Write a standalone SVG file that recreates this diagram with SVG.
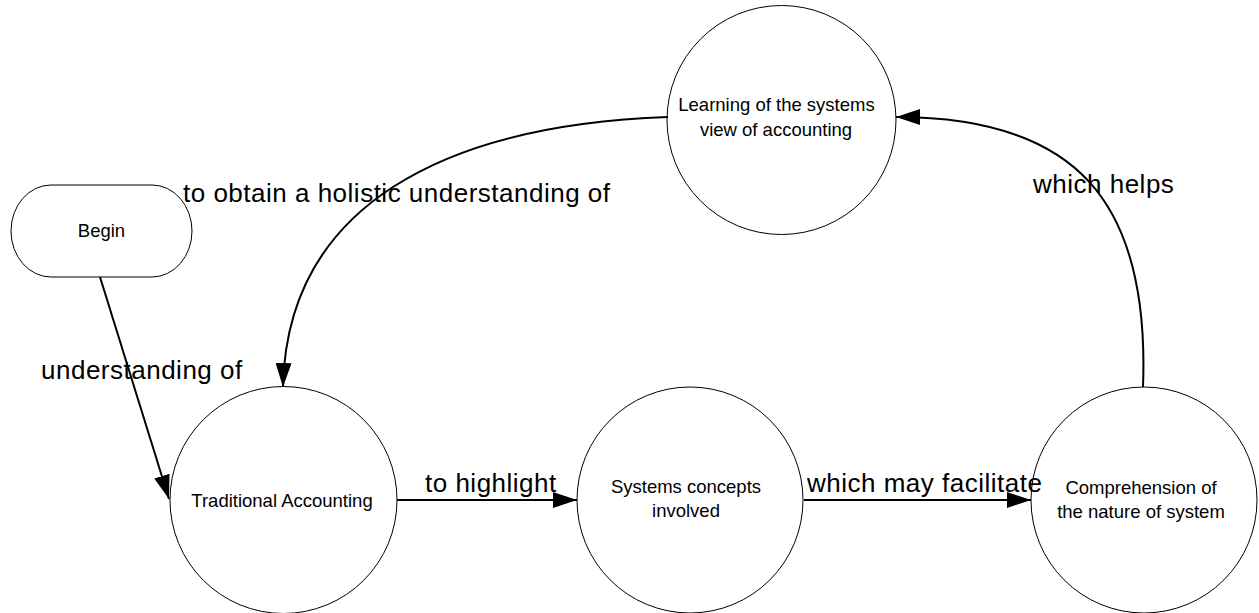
<svg xmlns="http://www.w3.org/2000/svg" width="1259" height="613" viewBox="0 0 1259 613">
  <defs>
    <style>
      .node { fill: #ffffff; stroke: #000000; stroke-width: 1; }
      .nlabel { font-family: "Liberation Sans", Arial, sans-serif; font-size: 18.5px; fill: #000000; text-anchor: middle; }
      .edge { fill: none; stroke: #000000; stroke-width: 2; }
      .elabel { font-family: "Liberation Sans", Arial, sans-serif; font-size: 26px; letter-spacing: 0.5px; fill: #000000; }
    </style>
    <marker id="arrow" markerUnits="userSpaceOnUse" markerWidth="24" markerHeight="16" refX="24" refY="8" orient="auto">
      <path d="M0,0 L24,8 L0,16 Z" fill="#000000"/>
    </marker>
  </defs>

  <rect width="1259" height="613" fill="#ffffff"/>

  <!-- nodes -->
  <g id="begin">
    <rect class="node" x="11" y="185" width="181" height="92" rx="40" ry="46"/>
    <text class="nlabel" x="101.5" y="237">Begin</text>
  </g>
  <g id="traditional-accounting">
    <circle class="node" cx="283.5" cy="500" r="113.5"/>
    <text class="nlabel" x="282" y="507">Traditional Accounting</text>
  </g>
  <g id="systems-concepts">
    <circle class="node" cx="690" cy="500" r="113"/>
    <text class="nlabel" x="686" y="493">Systems concepts</text>
    <text class="nlabel" x="686" y="517">involved</text>
  </g>
  <g id="comprehension">
    <circle class="node" cx="1144" cy="500" r="113"/>
    <text class="nlabel" x="1141" y="494">Comprehension of</text>
    <text class="nlabel" x="1141" y="518">the nature of system</text>
  </g>
  <g id="learning">
    <circle class="node" cx="781.5" cy="120" r="114.5"/>
    <text class="nlabel" x="776.5" y="111">Learning of the systems</text>
    <text class="nlabel" x="776" y="136">view of accounting</text>
  </g>

  <!-- connectors -->
  <g id="connectors">
    <path class="edge" d="M100,277 L169,499" marker-end="url(#arrow)"/>
    <path class="edge" d="M397,500 L577,500" marker-end="url(#arrow)"/>
    <path class="edge" d="M804,500 L1031,500" marker-end="url(#arrow)"/>
    <path class="edge" d="M1143,387 C1150,200 1075,117 896,117" marker-end="url(#arrow)"/>
    <path class="edge" d="M668,117 C445,125 287,205 283,387" marker-end="url(#arrow)"/>

    <text class="elabel" x="41" y="379">understanding of</text>
    <text class="elabel" x="425" y="492">to highlight</text>
    <text class="elabel" x="807" y="492">which may facilitate</text>
    <text class="elabel" x="1033" y="193">which helps</text>
    <text class="elabel" x="183" y="202">to obtain a holistic understanding of</text>
  </g>
</svg>
